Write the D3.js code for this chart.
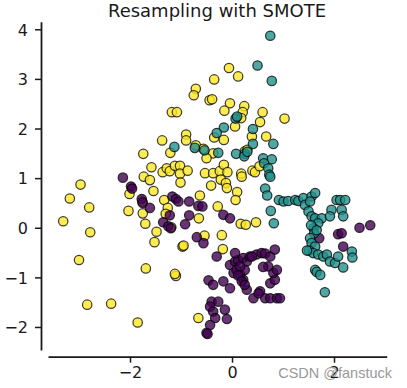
<!DOCTYPE html>
<html><head><meta charset="utf-8">
<script src="https://cdn.jsdelivr.net/npm/d3@7"></script>
<style>
html,body{margin:0;padding:0;background:#fff;}
svg{display:block;}
</style></head>
<body>
<svg id="chart" width="407" height="388"></svg>
<script>
const title = "Resampling with SMOTE";
const xTicks = [-2, 0, 2];
const yTicks = [-2, -1, 0, 1, 2, 3, 4];
const classColors = ["#440154", "#21918c", "#fde725"];

// class 2 (yellow)
const class2 = [
[-3.31,0.13],[-3.18,0.59],[-2.97,0.87],[-2.80,0.41],[-2.78,-0.09],[-3.00,-0.65],[-2.84,-1.55],[-2.37,-1.53],
[-1.85,-1.91],[-1.69,-0.82],[-1.74,1.49],[-1.73,1.03],[-1.61,0.96],[-1.58,1.22],[-1.54,0.74],[-2.01,0.68],
[-2.03,0.34],[-1.76,0.53],[-1.75,0.29],[-1.70,0.08],[-1.48,-0.08],[-1.52,-0.29],[-1.37,1.76],[-1.18,2.33],
[-1.08,2.33],[-1.36,1.12],[-1.28,1.20],[-1.21,1.51],[-1.22,1.14],[-1.12,1.25],[-1.02,1.25],[-1.02,1.09],
[-1.01,0.91],[-0.87,1.15],[-0.90,1.88],[-0.90,1.76],[-1.33,0.56],[-1.26,0.40],[-1.30,0.28],[-1.19,0.01],
[-1.10,-0.97],[-1.12,-0.93],[-0.97,-0.38],[-0.95,-0.36],[-0.71,2.80],[-0.75,2.67],[-0.44,2.57],[-0.39,2.59],
[-0.35,2.99],[-0.06,3.22],[0.12,3.05],[-0.04,2.51],[-0.15,2.36],[0.24,2.45],[0.21,2.33],[0.18,2.21],
[0.06,2.04],[0.60,2.33],[0.55,2.13],[1.03,2.20],[0.39,1.84],[0.67,1.84],[-0.35,1.82],[-0.16,1.77],
[-0.71,1.66],[-0.56,1.59],[-0.37,1.50],[-0.50,1.40],[-0.53,1.10],[-0.37,1.10],[-0.24,1.14],[-0.16,1.27],
[-0.09,1.12],[-0.22,0.97],[-0.12,0.90],[-0.10,0.80],[-0.41,0.85],[-0.63,0.65],[0.10,0.72],[0.07,0.56],
[0.18,1.09],[0.19,1.03],[0.25,1.54],[0.30,1.57],[0.40,1.15],[0.45,1.12],[0.54,1.24],[-0.28,0.43],
[-0.65,0.19],[-0.54,-0.16],[-0.20,-0.15],[-0.18,-0.43],[0.17,0.08],[0.27,0.06],[0.47,0.11],[-0.66,-1.82]
];

// class 0 (purple)
const class0 = [
[-2.14,1.01],[-1.98,0.83],[-1.96,0.79],[-1.77,0.58],[-1.75,0.50],[-1.61,0.40],[-1.35,0.11],[-1.25,0.03],
[-1.20,-0.01],[-1.22,0.25],[-1.17,0.63],[-1.10,0.58],[-1.05,0.53],[-0.84,0.53],[-0.66,0.44],[-0.58,0.43],
[-0.92,0.07],[-0.84,0.25],[-0.69,-0.19],[-0.56,-0.31],[-0.17,0.26],[-0.04,0.19],[-0.30,-0.58],[-0.46,-1.06],
[-0.37,-1.15],[-0.17,-1.08],[-0.04,-1.22],[-0.40,-1.49],[-0.27,-1.49],[-0.43,-1.59],[-0.37,-1.69],[-0.14,-1.65],
[-0.33,-1.82],[-0.10,-1.84],[-0.43,-1.96],[-0.50,-2.12],[-0.48,-2.14],
[-0.04,-0.75],[0.06,-0.68],[0.12,-0.65],[0.22,-0.61],[0.29,-0.68],[0.35,-0.58],[0.48,-0.54],[0.58,-0.51],
[0.65,-0.52],[0.75,-0.58],[0.84,-0.44],[0.03,-0.91],[0.09,-0.85],[0.16,-0.95],[0.22,-1.05],[0.29,-1.25],
[0.42,-1.42],[0.55,-1.28],[0.65,-1.42],[0.75,-1.42],[0.88,-1.42],[0.94,-1.42],[0.75,-1.12],[0.84,-1.05],
[0.81,-0.91],[0.71,-0.78],[0.61,-0.79],[0.25,-0.85],[0.06,-0.51],[0.16,-0.78],[0.12,-0.96],[0.19,-1.08],
[0.25,-1.15],[0.39,-0.58],[0.88,-0.85],[0.52,-1.32],
[2.08,-0.13],[2.15,-0.11],[2.50,0.00],[2.71,0.05],[2.18,-0.38],[1.71,-0.21]
];

// class 1 (teal)
const class1 = [
[0.75,3.87],[0.50,3.27],[0.78,2.96],[0.07,2.20],[0.10,2.24],[-0.16,2.02],[-0.30,1.91],[0.41,1.99],
[0.41,1.69],[0.81,1.69],[-0.27,1.51],[0.08,1.49],[0.25,1.49],[0.24,1.44],[0.30,1.53],[0.61,1.40],
[0.78,1.38],[0.63,1.30],[0.71,1.20],[0.73,1.07],[0.75,1.03],[0.65,0.79],[0.69,0.65],[-1.13,1.63],
[-0.73,1.61],[-0.54,1.56],[0.76,0.34],[0.82,0.09],[0.92,0.56],[1.01,0.53],[1.10,0.54],[1.24,0.56],
[1.30,0.54],[1.40,0.60],[1.43,0.46],[1.56,0.63],[1.63,0.70],[1.53,0.53],[1.50,0.33],[1.56,0.23],
[1.63,0.19],[1.76,0.19],[1.69,0.09],[1.60,-0.01],[1.61,-0.11],[1.53,-0.21],[1.56,-0.31],[1.63,-0.38],
[1.51,-0.46],[1.59,-0.51],[1.69,-0.54],[1.79,-0.58],[1.86,-0.54],[1.92,-0.68],[2.02,-0.71],[2.08,-0.58],
[2.18,-0.80],[2.35,-0.48],[2.36,-0.60],[1.95,0.36],[2.05,0.56],[2.12,0.56],[2.22,0.56],[2.15,0.36],
[2.18,0.23],[1.92,0.23],[1.63,-0.85],[1.66,-0.89],[1.73,-0.95],[1.82,-1.30],[1.47,-0.46],[1.55,0.05],
[1.66,-0.05]
];

const svg = d3.select("#chart");
const x = d3.scaleLinear().domain([-3.608, 3.033]).range([48, 386.7]);
const y = d3.scaleLinear().domain([-2.464, 4.153]).range([350, 21.7]);

const groups = [
  {data: class2, color: classColors[2]},
  {data: class0, color: classColors[0]},
  {data: class1, color: classColors[1]}
];
const plot = svg.append("g");
groups.forEach(g => {
  plot.selectAll(null).data(g.data).enter().append("circle")
    .attr("cx", d => x(d[0])).attr("cy", d => y(d[1])).attr("r", 4.7)
    .attr("fill", g.color).attr("fill-opacity", 0.8)
    .attr("stroke", "#000").attr("stroke-opacity", 0.75).attr("stroke-width", 1.25);
});

const font = "DejaVu Sans, sans-serif";
const xAxis = svg.append("g").attr("transform", "translate(0,356.7)")
  .call(d3.axisBottom(x).tickValues(xTicks).tickSize(6).tickSizeOuter(0).tickPadding(4)
    .tickFormat(d => d < 0 ? "\u2212" + Math.abs(d) : d));
const yAxis = svg.append("g").attr("transform", "translate(41,0)")
  .call(d3.axisLeft(y).tickValues(yTicks).tickSize(6).tickSizeOuter(0).tickPadding(7)
    .tickFormat(d => d < 0 ? "\u2212" + Math.abs(d) : d));
[xAxis, yAxis].forEach(a => {
  a.select(".domain").attr("stroke", "#1a1a1a").attr("stroke-width", 1.8);
  a.selectAll(".tick line").attr("stroke", "#1a1a1a").attr("stroke-width", 1.5);
  a.selectAll(".tick text").attr("fill", "#1a1a1a").style("font-family", font).style("font-size", "16px");
});
yAxis.selectAll(".tick text").attr("dy", "0.36em");

svg.append("text").attr("x", 217).attr("y", 17).attr("text-anchor", "middle")
  .style("font-family", font).style("font-size", "18px").attr("fill", "#1a1a1a").text(title);

svg.append("text").attr("x", 392).attr("y", 378).attr("text-anchor", "end")
  .style("font-family", "Liberation Sans, Arial, sans-serif").style("font-size", "14.5px")
  .attr("fill", "#999").text("CSDN @fanstuck");
</script>
</body></html>
